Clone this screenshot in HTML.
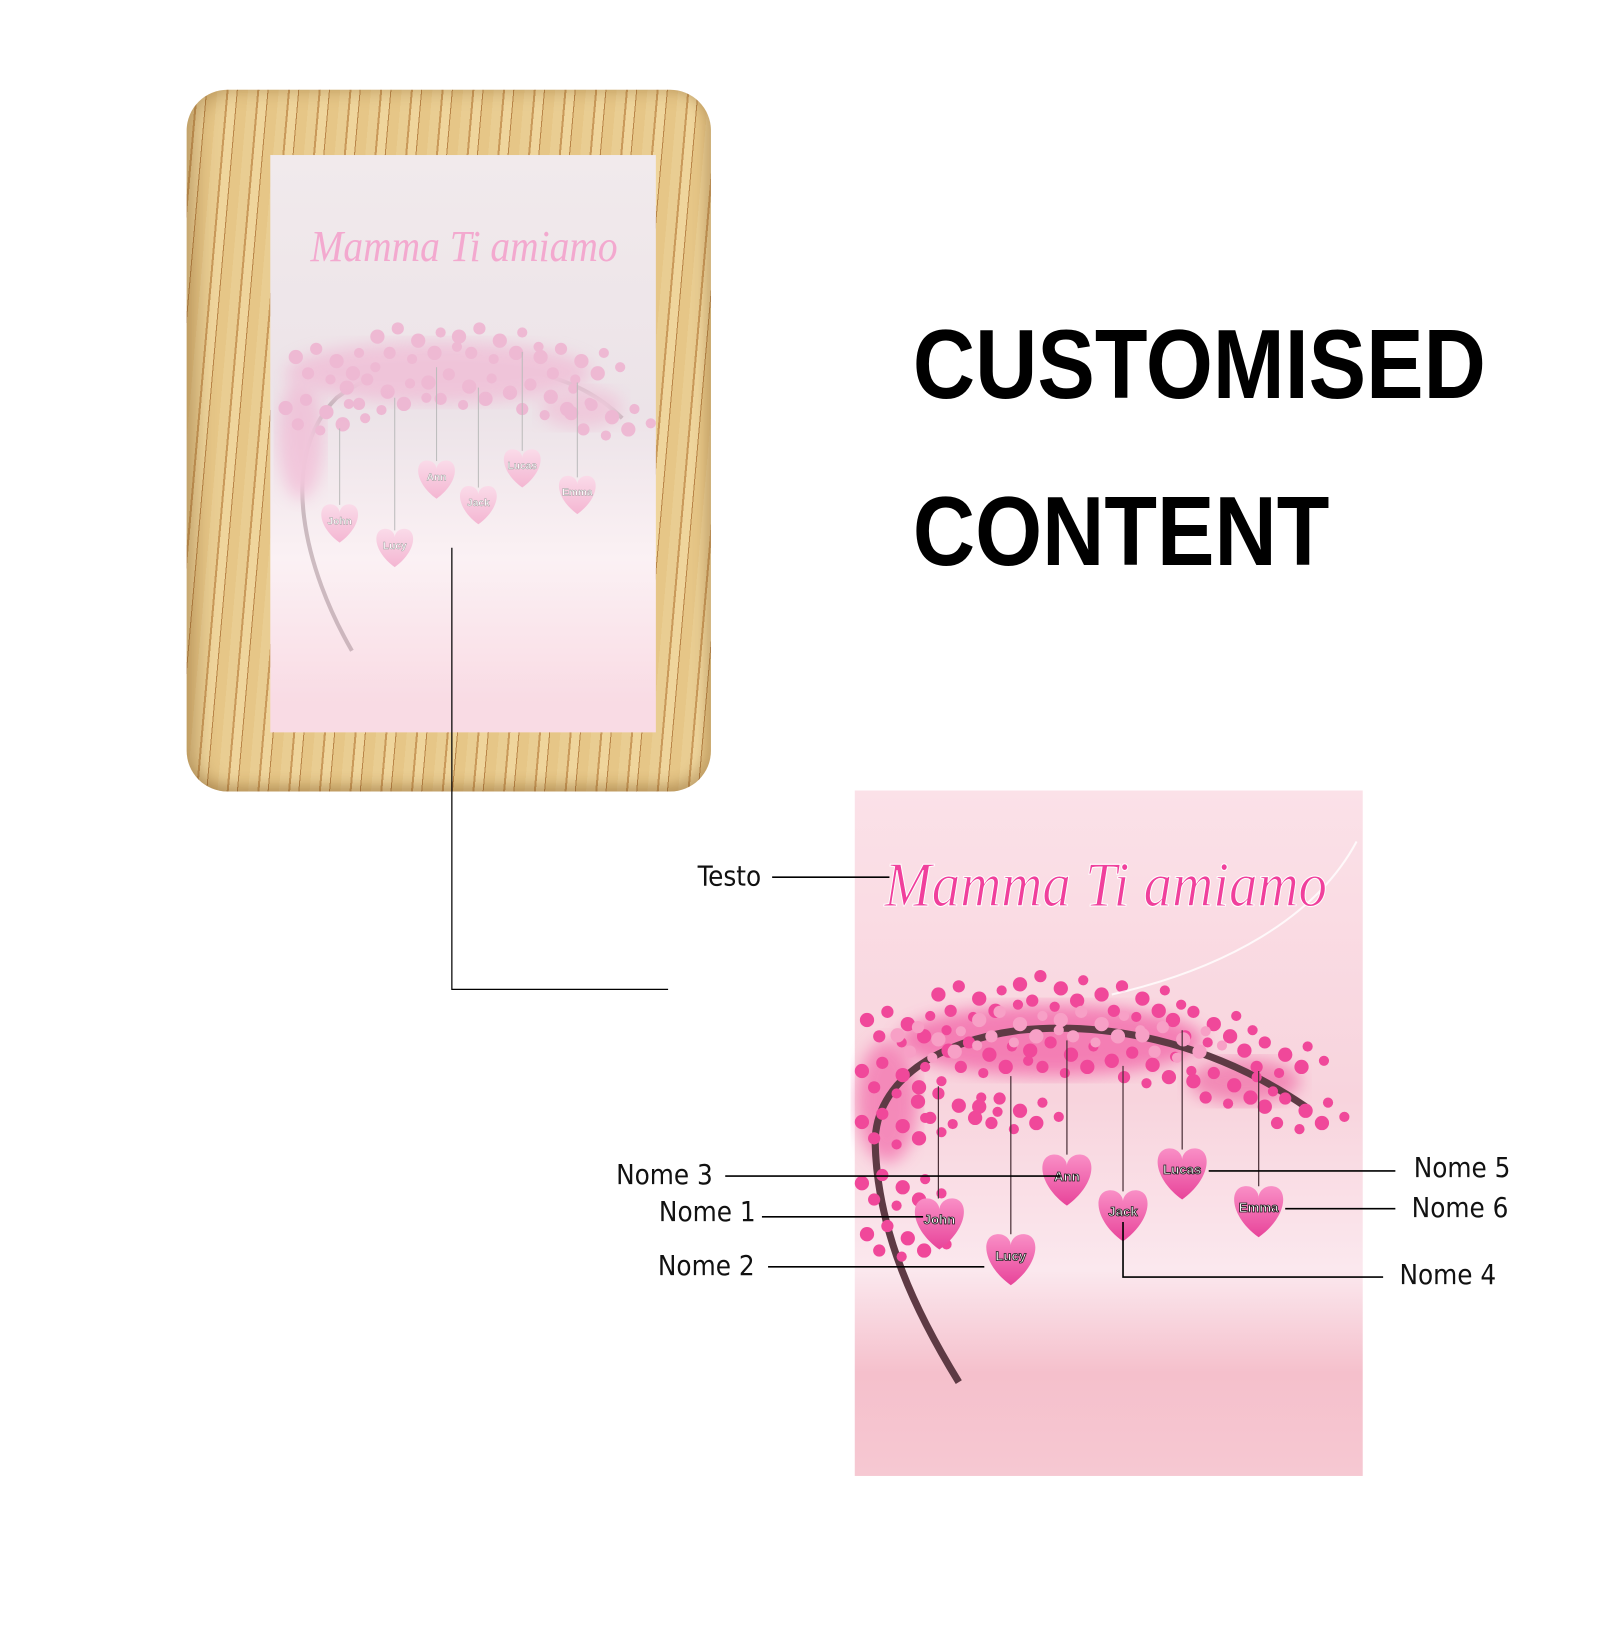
<!DOCTYPE html>
<html><head><meta charset="utf-8"><style>
html,body{margin:0;padding:0;background:#fff;width:1600px;height:1600px;overflow:hidden}
#w{position:absolute;left:0;top:0;width:1570px;height:1570px;transform:scale(1.02);transform-origin:0 0;font-family:"Liberation Sans",sans-serif}
.frame{position:absolute;left:183px;top:88px;width:514px;height:688px;border-radius:40px;
background:repeating-linear-gradient(95deg,#e9cd92 0 9px,#c9995a 9px 11px,#efd59c 11px 19px,#b98548 19px 20px,#e6c687 20px 30px);
box-shadow:inset 10px 0 18px rgba(120,80,30,.35),inset -6px -6px 12px rgba(120,80,30,.25)}
.inner{position:absolute;left:265px;top:152px;width:378px;height:566px;
background:linear-gradient(#f1eaec 0%,#ece3e8 45%,#fbf1f4 70%,#f9dbe4 95%);}
.pic{position:absolute;left:838px;top:775px;width:498px;height:672px;
background:linear-gradient(#fbe1e8 0%,#f8d4dd 45%,#fbe8ee 70%,#f5c0cc 85%,#f6c8d2 100%)}
.big{position:absolute;left:895px;font-weight:bold;font-size:96px;line-height:96px;color:#000;transform:scaleX(.88);transform-origin:0 0}
.lbl{position:absolute;font-family:"DejaVu Sans Condensed","Liberation Sans Narrow",sans-serif;font-size:27px;color:#111}
</style></head><body><div id="w">
<div class="frame"></div>
<div class="inner"></div>
<div class="pic"></div>
<div class="big" style="top:310px">CUSTOMISED</div>
<div class="big" style="top:474px">CONTENT</div>

<svg width="1600" height="1600" style="position:absolute;left:0;top:0">
<defs>
<linearGradient id="hg" x1="0" y1="0" x2="0" y2="1"><stop offset="0" stop-color="#f98fc6"/><stop offset="1" stop-color="#e8449a"/></linearGradient>
<linearGradient id="hg2" x1="0" y1="0" x2="0" y2="1"><stop offset="0" stop-color="#fadbe9"/><stop offset="1" stop-color="#f4b6d2"/></linearGradient>
<filter id="bl"><feGaussianBlur stdDeviation="8"/></filter>
<path id="h" d="M0,28 C-28,8 -30,-20 -14,-22 C-6,-23 0,-17 0,-11 C0,-17 6,-23 14,-22 C30,-20 28,8 0,28Z"/>
<g id="lv">
<circle cx="0" cy="0" r="7"/><circle cx="20" cy="-8" r="6"/><circle cx="40" cy="4" r="7"/><circle cx="62" cy="-4" r="5"/><circle cx="12" cy="16" r="6"/><circle cx="34" cy="22" r="5"/><circle cx="56" cy="16" r="7"/><circle cx="78" cy="10" r="5"/>
</g>
</defs>
<g opacity="0.5">
<path d="M345,638 C300,560 270,450 330,390 C370,360 420,350 520,365 C560,372 590,390 610,410" stroke="#a08890" stroke-width="4" fill="none"/>
<ellipse cx="430" cy="365" rx="150" ry="30" fill="#f2a6cb" filter="url(#bl)"/>
<ellipse cx="295" cy="430" rx="22" ry="60" fill="#f2a6cb" filter="url(#bl)"/>
<ellipse cx="570" cy="400" rx="40" ry="20" fill="#f2b0cf" filter="url(#bl)"/>
<g fill="#ef8fbf"><use href="#lv" x="290" y="350"/><use href="#lv" x="370" y="330"/><use href="#lv" x="450" y="330"/><use href="#lv" x="530" y="350"/><use href="#lv" x="280" y="400"/><use href="#lv" x="340" y="380"/><use href="#lv" x="420" y="375"/><use href="#lv" x="500" y="385"/><use href="#lv" x="560" y="405"/></g>
</g>
<text x="455" y="256" text-anchor="middle" font-size="44" fill="#f3a9cf" style="font-family:'Liberation Serif',serif;font-style:italic" transform="translate(455,0) scale(.88,1) translate(-455,0)">Mamma Ti amiamo</text>
<g stroke="#bbb" stroke-width="1">
<line x1="333" y1="420" x2="333" y2="495"/><line x1="387" y1="390" x2="387" y2="520"/><line x1="428" y1="360" x2="428" y2="452"/><line x1="469" y1="380" x2="469" y2="478"/><line x1="512" y1="345" x2="512" y2="442"/><line x1="566" y1="375" x2="566" y2="468"/>
</g>
<g fill="url(#hg2)">
<use href="#h" transform="translate(333,511) scale(.75)"/><use href="#h" transform="translate(387,535) scale(.75)"/><use href="#h" transform="translate(428,468) scale(.75)"/><use href="#h" transform="translate(469,493) scale(.75)"/><use href="#h" transform="translate(512,457) scale(.75)"/><use href="#h" transform="translate(566,483) scale(.75)"/>
</g>
<g font-size="10" fill="#fff" stroke="#999" stroke-width=".4" text-anchor="middle" font-weight="bold">
<text x="333" y="514">John</text><text x="387" y="538">Lucy</text><text x="428" y="471">Ann</text><text x="469" y="496">Jack</text><text x="512" y="460">Lucas</text><text x="566" y="486">Emma</text>
</g>

<g opacity=".7">
<ellipse cx="1030" cy="1020" rx="150" ry="35" fill="#f25aa3" filter="url(#bl)"/>
<ellipse cx="870" cy="1080" rx="30" ry="60" fill="#f36aaa" filter="url(#bl)"/>
<ellipse cx="1220" cy="1060" rx="55" ry="22" fill="#f06aa6" filter="url(#bl)"/>
</g>
<path d="M940,1355 C900,1290 860,1210 858,1120 C858,1060 920,1020 1000,1010 C1100,1000 1200,1030 1280,1085" stroke="#5e3a44" stroke-width="7" fill="none"/>
<g fill="#f0489a">
<use href="#lv" x="850" y="1000"/><use href="#lv" x="920" y="975"/><use href="#lv" x="1000" y="965"/><use href="#lv" x="1080" y="975"/><use href="#lv" x="1150" y="1000"/><use href="#lv" x="1220" y="1030"/>
<use href="#lv" x="845" y="1050"/><use href="#lv" x="930" y="1030"/><use href="#lv" x="1010" y="1030"/><use href="#lv" x="1090" y="1040"/><use href="#lv" x="1170" y="1060"/><use href="#lv" x="1240" y="1085"/>
<use href="#lv" x="845" y="1100"/><use href="#lv" x="900" y="1080"/><use href="#lv" x="960" y="1085"/><use href="#lv" x="845" y="1160"/><use href="#lv" x="850" y="1210"/>
</g>
<g fill="#f7a0c6"><use href="#lv" x="880" y="1015"/><use href="#lv" x="960" y="1000"/><use href="#lv" x="1040" y="1000"/><use href="#lv" x="1120" y="1015"/></g>
<path d="M1090,975 C1200,950 1290,900 1330,825" stroke="#fff" stroke-width="2" fill="none" opacity=".8"/>
<text x="1084" y="888" text-anchor="middle" font-size="62" fill="#f0409c" stroke="#fff" stroke-width="1" style="font-family:'Liberation Serif',serif;font-style:italic" transform="translate(1084,0) scale(.9,1) translate(-1084,0)">Mamma Ti amiamo</text>
<g stroke="#4a3038" stroke-width="1.2">
<line x1="920" y1="1065" x2="920" y2="1175"/><line x1="991" y1="1055" x2="991" y2="1210"/><line x1="1046" y1="1020" x2="1046" y2="1132"/><line x1="1101" y1="1045" x2="1101" y2="1168"/><line x1="1159" y1="1010" x2="1159" y2="1127"/><line x1="1234" y1="1050" x2="1234" y2="1163"/>
</g>
<g fill="url(#hg)">
<use href="#h" transform="translate(921,1197)"/><use href="#h" transform="translate(991,1232)"/><use href="#h" transform="translate(1046,1154)"/><use href="#h" transform="translate(1101,1189)"/><use href="#h" transform="translate(1159,1148)"/><use href="#h" transform="translate(1234,1185)"/>
</g>
<g font-size="13" fill="#fff" stroke="#222" stroke-width=".8" text-anchor="middle" font-weight="bold">
<text x="921" y="1200">John</text><text x="991" y="1236">Lucy</text><text x="1046" y="1158">Ann</text><text x="1101" y="1192">Jack</text><text x="1159" y="1151">Lucas</text><text x="1234" y="1188">Emma</text>
</g>

<g stroke="#000" stroke-width="1.6" fill="none">
<polyline points="443,537 443,970 655,970" stroke-width="1.2"/>
<line x1="757" y1="860" x2="872" y2="860"/>
<line x1="711" y1="1153" x2="1040" y2="1153"/>
<line x1="747" y1="1193" x2="905" y2="1193"/>
<line x1="753" y1="1242" x2="965" y2="1242"/>
<line x1="1185" y1="1148" x2="1368" y2="1148"/>
<line x1="1260" y1="1185" x2="1368" y2="1185"/>
<polyline points="1101,1198 1101,1252 1356,1252"/>
</g>
</svg>
<div class="lbl" style="left:684px;top:844px">Testo</div>
<div class="lbl" style="left:604px;top:1137px">Nome 3</div>
<div class="lbl" style="left:646px;top:1173px">Nome 1</div>
<div class="lbl" style="left:645px;top:1226px">Nome 2</div>
<div class="lbl" style="left:1386px;top:1130px">Nome 5</div>
<div class="lbl" style="left:1384px;top:1169px">Nome 6</div>
<div class="lbl" style="left:1372px;top:1235px">Nome 4</div>
</div></body></html>
